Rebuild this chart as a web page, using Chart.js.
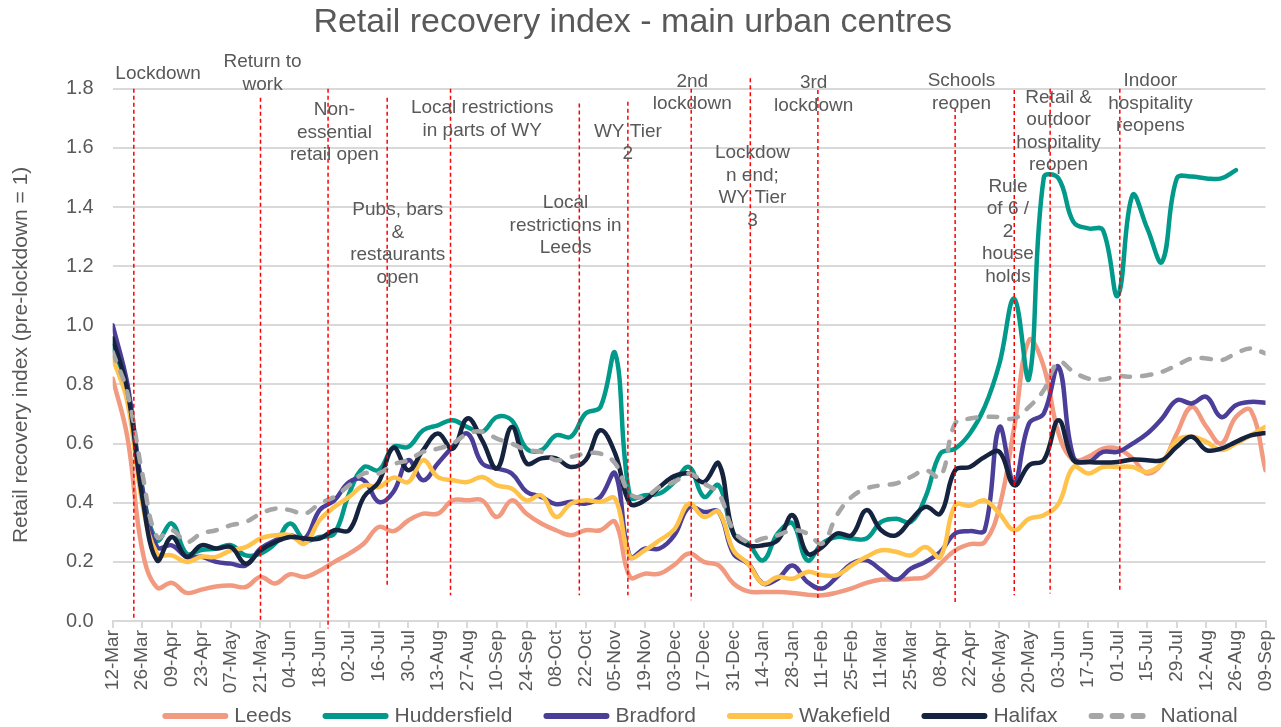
<!DOCTYPE html>
<html>
<head>
<meta charset="utf-8">
<script src="https://cdn.jsdelivr.net/npm/chart.js@4.4.1/dist/chart.umd.min.js"></script>
<style>
  html, body { margin: 0; padding: 0; background: #fff; }
</style>
</head>
<body>
<canvas id="retail-chart" width="1281" height="727"></canvas>
<script>
// weekly observations
const weeks = [
  "2020-03-12", "2020-03-19", "2020-03-26", "2020-04-02", "2020-04-09", "2020-04-16", "2020-04-23", "2020-04-30",
  "2020-05-07", "2020-05-14", "2020-05-21", "2020-05-28", "2020-06-04", "2020-06-11", "2020-06-18", "2020-06-25",
  "2020-07-02", "2020-07-09", "2020-07-16", "2020-07-23", "2020-07-30", "2020-08-06", "2020-08-13", "2020-08-20",
  "2020-08-27", "2020-09-03", "2020-09-10", "2020-09-17", "2020-09-24", "2020-10-01", "2020-10-08", "2020-10-15",
  "2020-10-22", "2020-10-29", "2020-11-05", "2020-11-12", "2020-11-19", "2020-11-26", "2020-12-03", "2020-12-10",
  "2020-12-17", "2020-12-24", "2020-12-31", "2021-01-07", "2021-01-14", "2021-01-21", "2021-01-28", "2021-02-04",
  "2021-02-11", "2021-02-18", "2021-02-25", "2021-03-04", "2021-03-11", "2021-03-18", "2021-03-25", "2021-04-01",
  "2021-04-08", "2021-04-15", "2021-04-22", "2021-04-29", "2021-05-06", "2021-05-13", "2021-05-20", "2021-05-27",
  "2021-06-03", "2021-06-10", "2021-06-17", "2021-06-24", "2021-07-01", "2021-07-08", "2021-07-15", "2021-07-22",
  "2021-07-29", "2021-08-05", "2021-08-12", "2021-08-19", "2021-08-26", "2021-09-02", "2021-09-09",
];

const leeds = [
  0.82, 0.62, 0.24, 0.113, 0.129, 0.095, 0.106, 0.117, 0.12, 0.115, 0.149, 0.127, 0.158, 0.149, 0.17, 0.2,
  0.228, 0.262, 0.318, 0.304, 0.34, 0.363, 0.363, 0.408, 0.408, 0.408, 0.352, 0.408, 0.363, 0.33, 0.307, 0.29,
  0.307, 0.307, 0.335, 0.149, 0.16, 0.16, 0.19, 0.228, 0.2, 0.188, 0.127, 0.1, 0.098, 0.098, 0.095, 0.089,
  0.087, 0.096, 0.11, 0.129, 0.14, 0.14, 0.143, 0.149, 0.194, 0.239, 0.26, 0.267, 0.386, 0.656, 0.95, 0.86,
  0.634, 0.544, 0.555, 0.583, 0.583, 0.55, 0.499, 0.533, 0.634, 0.724, 0.657, 0.6, 0.69, 0.713, 0.51,
];
const huddersfield = [
  0.93, 0.78, 0.45, 0.273, 0.33, 0.228, 0.24, 0.245, 0.256, 0.222, 0.228, 0.262, 0.33, 0.273, 0.284, 0.296,
  0.431, 0.521, 0.51, 0.589, 0.589, 0.645, 0.662, 0.679, 0.656, 0.64, 0.69, 0.679, 0.583, 0.578, 0.628, 0.623,
  0.702, 0.724, 0.905, 0.42, 0.425, 0.431, 0.47, 0.521, 0.42, 0.459, 0.296, 0.262, 0.205, 0.296, 0.33, 0.205,
  0.262, 0.284, 0.279, 0.279, 0.335, 0.346, 0.335, 0.42, 0.566, 0.583, 0.634, 0.724, 0.871, 1.09, 0.82, 1.5,
  1.497, 1.35, 1.328, 1.322, 1.1, 1.44, 1.328, 1.215, 1.497, 1.503, 1.497, 1.497, 1.525, null, null,
];
const bradford = [
  1.0, 0.8, 0.45, 0.25, 0.256, 0.217, 0.217, 0.2, 0.194, 0.188, 0.245, 0.273, 0.29, 0.279, 0.375, 0.408,
  0.47, 0.476, 0.403, 0.437, 0.544, 0.476, 0.533, 0.589, 0.634, 0.533, 0.516, 0.499, 0.437, 0.42, 0.395, 0.403,
  0.397, 0.42, 0.499, 0.217, 0.245, 0.245, 0.29, 0.386, 0.369, 0.369, 0.228, 0.194, 0.127, 0.143, 0.188, 0.132,
  0.11, 0.149, 0.194, 0.205, 0.172, 0.14, 0.177, 0.2, 0.234, 0.296, 0.304, 0.307, 0.656, 0.47, 0.668, 0.702,
  0.86, 0.555, 0.538, 0.572, 0.572, 0.6, 0.634, 0.685, 0.747, 0.736, 0.758, 0.69, 0.73, 0.741, 0.738,
];
const wakefield = [
  0.89, 0.74, 0.4, 0.228, 0.222, 0.2, 0.217, 0.217, 0.239, 0.25, 0.279, 0.29, 0.29, 0.262, 0.341, 0.386,
  0.42, 0.459, 0.453, 0.485, 0.47, 0.544, 0.487, 0.476, 0.47, 0.487, 0.459, 0.448, 0.408, 0.425, 0.352, 0.397,
  0.408, 0.403, 0.414, 0.217, 0.239, 0.273, 0.31, 0.397, 0.352, 0.369, 0.239, 0.194, 0.127, 0.149, 0.143, 0.166,
  0.155, 0.155, 0.188, 0.217, 0.239, 0.234, 0.222, 0.25, 0.217, 0.392, 0.39, 0.408, 0.363, 0.307, 0.346, 0.358,
  0.397, 0.521, 0.499, 0.521, 0.521, 0.521, 0.504, 0.533, 0.611, 0.623, 0.606, 0.578, 0.6, 0.628, 0.657,
];
const halifax = [
  0.956, 0.78, 0.42, 0.205, 0.284, 0.217, 0.256, 0.245, 0.25, 0.194, 0.239, 0.267, 0.284, 0.279, 0.279, 0.307,
  0.307, 0.42, 0.47, 0.586, 0.51, 0.578, 0.634, 0.583, 0.685, 0.611, 0.516, 0.656, 0.533, 0.55, 0.55, 0.521,
  0.544, 0.645, 0.566, 0.397, 0.408, 0.453, 0.49, 0.499, 0.47, 0.533, 0.296, 0.256, 0.256, 0.273, 0.358, 0.228,
  0.25, 0.296, 0.29, 0.375, 0.307, 0.29, 0.341, 0.386, 0.363, 0.51, 0.521, 0.555, 0.572, 0.459, 0.527, 0.544,
  0.679, 0.544, 0.538, 0.536, 0.538, 0.546, 0.544, 0.544, 0.589, 0.623, 0.578, 0.583, 0.606, 0.628, 0.636,
];
const national = [
  0.91, 0.77, 0.5, 0.284, 0.307, 0.267, 0.296, 0.307, 0.324, 0.335, 0.363, 0.38, 0.375, 0.363, 0.397, 0.42,
  0.459, 0.499, 0.499, 0.53, 0.544, 0.572, 0.583, 0.6, 0.634, 0.64, 0.617, 0.6, 0.578, 0.572, 0.544, 0.555,
  0.566, 0.566, 0.533, 0.431, 0.42, 0.453, 0.47, 0.499, 0.465, 0.431, 0.307, 0.267, 0.279, 0.29, 0.307, 0.296,
  0.262, 0.358, 0.42, 0.448, 0.459, 0.465, 0.487, 0.51, 0.487, 0.668, 0.685, 0.69, 0.69, 0.685, 0.724, 0.781,
  0.876, 0.843, 0.82, 0.817, 0.828, 0.826, 0.831, 0.843, 0.865, 0.888, 0.888, 0.882, 0.905, 0.922, 0.905,
];

// fortnightly axis labels
const tickLabels = [
  "12-Mar", "26-Mar", "09-Apr", "23-Apr", "07-May", "21-May", "04-Jun", "18-Jun", "02-Jul", "16-Jul",
  "30-Jul", "13-Aug", "27-Aug", "10-Sep", "24-Sep", "08-Oct", "22-Oct", "05-Nov", "19-Nov", "03-Dec",
  "17-Dec", "31-Dec", "14-Jan", "28-Jan", "11-Feb", "25-Feb", "11-Mar", "25-Mar", "08-Apr", "22-Apr",
  "06-May", "20-May", "03-Jun", "17-Jun", "01-Jul", "15-Jul", "29-Jul", "12-Aug", "26-Aug", "09-Sep",
];

// policy events
const eventDates = [
  "2020-03-22", "2020-05-21", "2020-06-22", "2020-07-20", "2020-08-19", "2020-10-19", "2020-11-11",
  "2020-12-11", "2021-01-08", "2021-02-09", "2021-04-15", "2021-05-13", "2021-05-30", "2021-07-02",
];
const eventLabels = [
  ["Lockdown"],
  ["Return to", "work"],
  ["Non-", "essential", "retail open"],
  ["Pubs, bars", "&", "restaurants", "open"],
  ["Local restrictions", "in parts of WY"],
  ["Local", "restrictions in", "Leeds"],
  ["WY Tier", "2"],
  ["2nd", "lockdown"],
  ["Lockdow", "n end;", "WY Tier", "3"],
  ["3rd", "lockdown"],
  ["Schools", "reopen"],
  ["Rule", "of 6 /", "2", "house", "holds"],
  ["Retail &", "outdoor", "hospitality", "reopen"],
  ["Indoor", "hospitality", "reopens"],
];
// where each marker line and its note sit (axis units: days, index)
const eventLayout = [
  { top: 1.8, bottom: 0.01, textDay: 21.5, textY: 1.85 },
  { top: 1.77, bottom: 0.0, textDay: 71, textY: 1.89 },
  { top: 1.8, bottom: -0.025, textDay: 105, textY: 1.728 },
  { top: 1.77, bottom: 0.114, textDay: 135, textY: 1.39 },
  { top: 1.8, bottom: 0.087, textDay: 175, textY: 1.735 },
  { top: 1.75, bottom: 0.087, textDay: 214.5, textY: 1.414 },
  { top: 1.756, bottom: 0.087, textDay: 244, textY: 1.655 },
  { top: 1.8, bottom: 0.07, textDay: 274.5, textY: 1.824 },
  { top: 1.836, bottom: 0.115, textDay: 303, textY: 1.583 },
  { top: 1.796, bottom: 0.07, textDay: 332, textY: 1.82 },
  { top: 1.735, bottom: 0.064, textDay: 402, textY: 1.827 },
  { top: 1.796, bottom: 0.087, textDay: 424, textY: 1.469 },
  { top: 1.8, bottom: 0.093, textDay: 448, textY: 1.77 },
  { top: 1.8, bottom: 0.098, textDay: 491.5, textY: 1.827 },
];

const FONT = "'Liberation Sans', Arial, sans-serif";
const TEXT_COLOR = "#595959";
const DAY = 86400000;
const start = Date.parse(weeks[0]);
const dayOf = (d) => Math.round((Date.parse(d) - start) / DAY);

function points(values) {
  return values.map((v, i) => ({ x: dayOf(weeks[i]), y: v }));
}

const series = [
  { label: "Leeds", data: leeds, color: "#F29A80", order: 5 },
  { label: "Huddersfield", data: huddersfield, color: "#00998A", order: 4 },
  { label: "Bradford", data: bradford, color: "#4A3E98", order: 3 },
  { label: "Wakefield", data: wakefield, color: "#FFC24A", order: 2 },
  { label: "Halifax", data: halifax, color: "#16233F", order: 1 },
  { label: "National", data: national, color: "#A6A6A6", order: 0, dash: [9, 12] },
];

const eventsPlugin = {
  id: "events",
  afterDatasetsDraw(chart) {
    const { ctx, scales: { x, y } } = chart;
    ctx.save();
    ctx.strokeStyle = "#FF0000";
    ctx.lineWidth = 1.5;
    ctx.setLineDash([4, 3]);
    eventDates.forEach((d, i) => {
      const px = x.getPixelForValue(dayOf(d));
      ctx.beginPath();
      ctx.moveTo(px, y.getPixelForValue(eventLayout[i].top));
      ctx.lineTo(px, y.getPixelForValue(eventLayout[i].bottom));
      ctx.stroke();
    });
    ctx.setLineDash([]);
    ctx.fillStyle = TEXT_COLOR;
    ctx.font = "19px " + FONT;
    ctx.textAlign = "center";
    ctx.textBaseline = "middle";
    eventLabels.forEach((lines, i) => {
      const tx = x.getPixelForValue(eventLayout[i].textDay);
      const ty = y.getPixelForValue(eventLayout[i].textY);
      lines.forEach((t, j) => ctx.fillText(t, tx, ty + j * 22.5));
    });
    ctx.restore();
  },
};

// legend drawn under the axis labels, like the original
const legendPlugin = {
  id: "bottomLegend",
  afterDraw(chart) {
    const { ctx } = chart;
    const sample = 66, gap = 6, spacing = 31, cy = 716;
    ctx.save();
    ctx.font = "21px " + FONT;
    const widths = series.map((s) => sample + gap + ctx.measureText(s.label).width);
    const total = widths.reduce((a, b) => a + b, 0) + spacing * (series.length - 1);
    let cx = 700 - total / 2;
    series.forEach((s, i) => {
      ctx.strokeStyle = s.color;
      ctx.lineWidth = 6;
      ctx.lineCap = "round";
      ctx.setLineDash(s.dash || []);
      ctx.beginPath();
      ctx.moveTo(cx + 3, cy);
      ctx.lineTo(cx + sample - 3, cy);
      ctx.stroke();
      ctx.setLineDash([]);
      ctx.fillStyle = TEXT_COLOR;
      ctx.textBaseline = "middle";
      ctx.fillText(s.label, cx + sample + gap, cy);
      cx += widths[i] + spacing;
    });
    ctx.restore();
  },
};

const config = {
  type: "line",
  data: {
    datasets: series.map((s) => ({
      label: s.label,
      data: points(s.data),
      borderColor: s.color,
      backgroundColor: s.color,
      borderWidth: 4.5,
      borderDash: s.dash || [],
      borderCapStyle: "round",
      borderJoinStyle: "round",
      pointRadius: 0,
      tension: 0.4,
      order: s.order,
    })),
  },
  options: {
    responsive: false,
    animation: false,
    layout: { padding: { left: 0, right: 15.5, top: 0, bottom: 0 } },
    plugins: {
      legend: { display: false },
      tooltip: { enabled: false },
      title: {
        display: true,
        text: "Retail recovery index - main urban centres",
        color: TEXT_COLOR,
        font: { family: FONT, size: 34, weight: "normal" },
        padding: { top: 2, bottom: 46 },
      },
    },
    scales: {
      x: {
        type: "linear",
        min: 0,
        max: 546,
        afterFit: (scale) => {
          scale.height = 106;
          scale.paddingLeft = 0;
          scale.paddingRight = 0;
        },
        ticks: {
          stepSize: 14,
          autoSkip: false,
          maxRotation: 90,
          minRotation: 90,
          padding: 2,
          color: TEXT_COLOR,
          font: { family: FONT, size: 19 },
          callback: (v) => tickLabels[Math.round(v / 14)] || "",
        },
        grid: { drawOnChartArea: false, drawTicks: true, tickLength: 7, color: "#D9D9D9", lineWidth: 2 },
        border: { color: "#D9D9D9", width: 2 },
      },
      y: {
        min: 0,
        max: 1.8,
        afterFit: (scale) => { scale.width = 112.7; },
        ticks: {
          stepSize: 0.2,
          padding: 19,
          color: TEXT_COLOR,
          font: { family: FONT, size: 20 },
          callback: (v) => v.toFixed(1),
        },
        grid: { color: "#D9D9D9", lineWidth: 2, drawTicks: false },
        border: { display: false },
        title: {
          display: true,
          text: "Retail recovery index (pre-lockdown = 1)",
          color: TEXT_COLOR,
          font: { family: FONT, size: 21 },
          padding: { top: 9, bottom: 0 },
        },
      },
    },
  },
  plugins: [eventsPlugin, legendPlugin],
};

const retailChart = new Chart(document.getElementById("retail-chart"), config);
</script>
</body>
</html>
